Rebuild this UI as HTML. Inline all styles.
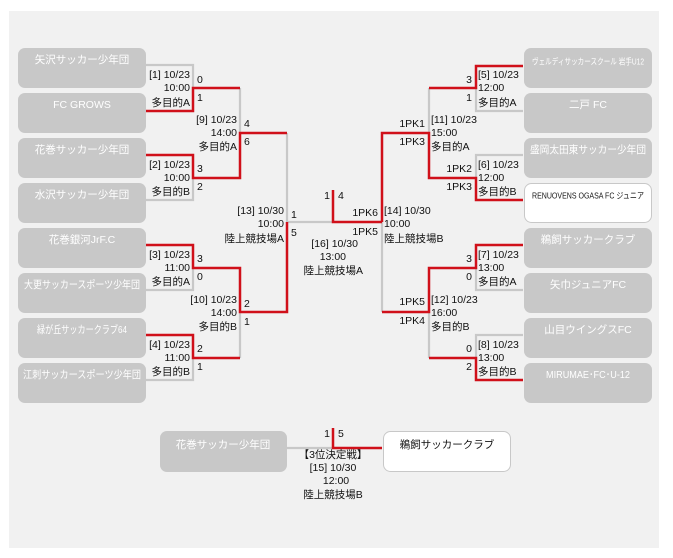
<!DOCTYPE html>
<html><head><meta charset="utf-8"><style>
html,body{margin:0;padding:0;background:#fff;width:673px;height:558px;overflow:hidden}
svg text{font-family:"Liberation Sans","Noto Sans CJK JP",sans-serif;font-size:10.5px;fill:#111;dominant-baseline:middle}
svg text.w{fill:#fff;font-size:10.5px;text-anchor:middle}
svg text.d{fill:#111;font-size:10.5px;text-anchor:middle}
.e{text-anchor:end}.m{text-anchor:middle}
</style></head><body>
<svg width="673" height="558" viewBox="0 0 673 558" xmlns="http://www.w3.org/2000/svg">
<rect x="9" y="11" width="650" height="537" fill="#f1f1f1"/>
<g fill="#c8c8c8">
<rect x="18" y="48" width="128" height="40" rx="7"/>
<rect x="18" y="93" width="128" height="40" rx="7"/>
<rect x="18" y="138" width="128" height="40" rx="7"/>
<rect x="18" y="183" width="128" height="40" rx="7"/>
<rect x="18" y="228" width="128" height="40" rx="7"/>
<rect x="18" y="273" width="128" height="40" rx="7"/>
<rect x="18" y="318" width="128" height="40" rx="7"/>
<rect x="18" y="363" width="128" height="40" rx="7"/>
<rect x="524" y="48" width="128" height="40" rx="7"/>
<rect x="524" y="93" width="128" height="40" rx="7"/>
<rect x="524" y="138" width="128" height="40" rx="7"/>
<rect x="524" y="228" width="128" height="40" rx="7"/>
<rect x="524" y="273" width="128" height="40" rx="7"/>
<rect x="524" y="318" width="128" height="40" rx="7"/>
<rect x="524" y="363" width="128" height="40" rx="7"/>
<rect x="160" y="431" width="127" height="41" rx="7"/>
</g>
<rect x="524.5" y="183.5" width="127" height="39" rx="7" fill="#fff" stroke="#c8c8c8"/>
<rect x="383.5" y="431.5" width="127" height="40" rx="7" fill="#fff" stroke="#c8c8c8"/>
<g fill="none" stroke="#c8c8c8" stroke-width="2.2">
<path d="M146,65H193V88"/><path d="M193,178V200H146"/><path d="M240,88V133"/>
<path d="M193,268V290H146"/><path d="M193,358V380H146"/><path d="M240,312V358"/>
<path d="M287,133V222H333"/>
<path d="M476,88V111H523"/><path d="M429,88V133"/><path d="M523,155H476V178"/>
<path d="M476,268V290H523"/><path d="M382,222V312"/><path d="M429,312V358"/><path d="M523,335H476V358"/>
<path d="M287,448H333"/>
</g>
<g fill="none" stroke="#d0101a" stroke-width="2.5">
<path d="M146,111H193V88H240"/>
<path d="M146,155H193V178H240V133H287"/>
<path d="M146,245H193V268H240V312H287V222"/>
<path d="M146,335H193V358H240"/>
<path d="M333,190V222H382"/>
<path d="M523,66H476V88H429"/>
<path d="M382,222V133H429V178H476V200H523"/>
<path d="M523,245H476V268H429V312H382"/>
<path d="M429,358H476V380H523"/>
<path d="M333,428V448H382"/>
</g>
<g>
<text class="w" x="82" y="60">矢沢サッカー少年団</text>
<text class="w" x="82" y="105">FC GROWS</text>
<text class="w" x="82" y="150">花巻サッカー少年団</text>
<text class="w" x="82" y="195">水沢サッカー少年団</text>
<text class="w" x="82" y="240">花巻銀河JrF.C</text>
<text class="w" x="82" y="285" textLength="116" lengthAdjust="spacingAndGlyphs">大更サッカースポーツ少年団</text>
<text class="w" x="82" y="330" textLength="90" lengthAdjust="spacingAndGlyphs">緑が丘サッカークラブ64</text>
<text class="w" x="82" y="375" textLength="118" lengthAdjust="spacingAndGlyphs">江刺サッカースポーツ少年団</text>
<text class="w" x="588" y="62" style="font-size:8.5px" textLength="112" lengthAdjust="spacingAndGlyphs">ヴェルディサッカースクール 岩手U12</text>
<text class="w" x="588" y="105">二戸 FC</text>
<text class="w" x="588" y="150" textLength="116" lengthAdjust="spacingAndGlyphs">盛岡太田東サッカー少年団</text>
<text class="d" x="588" y="196" style="font-size:8.5px" textLength="112" lengthAdjust="spacingAndGlyphs">RENUOVENS OGASA FC ジュニア</text>
<text class="w" x="588" y="240">鵜飼サッカークラブ</text>
<text class="w" x="588" y="285">矢巾ジュニアFC</text>
<text class="w" x="588" y="330">山目ウイングスFC</text>
<text class="w" x="588" y="375" textLength="84" lengthAdjust="spacingAndGlyphs">MIRUMAE･FC･U-12</text>
<text class="w" x="223" y="445">花巻サッカー少年団</text>
<text class="d" x="447" y="445">鵜飼サッカークラブ</text>
</g>
<g class="e">
<text class="e" x="190" y="75">[1] 10/23</text><text class="e" x="190" y="88">10:00</text><text class="e" x="190" y="103">多目的A</text>
<text class="e" x="190" y="165">[2] 10/23</text><text class="e" x="190" y="178">10:00</text><text class="e" x="190" y="192">多目的B</text>
<text class="e" x="190" y="255">[3] 10/23</text><text class="e" x="190" y="268">11:00</text><text class="e" x="190" y="282">多目的A</text>
<text class="e" x="190" y="345">[4] 10/23</text><text class="e" x="190" y="358">11:00</text><text class="e" x="190" y="372">多目的B</text>
<text class="e" x="237" y="120">[9] 10/23</text><text class="e" x="237" y="133">14:00</text><text class="e" x="237" y="147">多目的A</text>
<text class="e" x="237" y="300">[10] 10/23</text><text class="e" x="237" y="313">14:00</text><text class="e" x="237" y="327">多目的B</text>
<text class="e" x="284" y="211">[13] 10/30</text><text class="e" x="284" y="224">10:00</text><text class="e" x="284" y="239">陸上競技場A</text>
<text class="e" x="358" y="244">[16] 10/30</text><text class="e" x="346" y="257">13:00</text><text class="e" x="363" y="271">陸上競技場A</text>
<text class="e" x="472" y="80">3</text><text class="e" x="472" y="98">1</text>
<text class="e" x="472" y="169">1PK2</text><text class="e" x="472" y="187">1PK3</text>
<text class="e" x="472" y="259">3</text><text class="e" x="472" y="277">0</text>
<text class="e" x="472" y="349">0</text><text class="e" x="472" y="367">2</text>
<text class="e" x="425" y="124">1PK1</text><text class="e" x="425" y="142">1PK3</text>
<text class="e" x="425" y="302">1PK5</text><text class="e" x="425" y="321">1PK4</text>
<text class="e" x="378" y="213">1PK6</text><text class="e" x="378" y="232">1PK5</text>
<text class="e" x="330" y="196">1</text><text class="e" x="330" y="434">1</text>
</g>
<g>
<text x="197" y="80">0</text><text x="197" y="98">1</text>
<text x="197" y="169">3</text><text x="197" y="187">2</text>
<text x="197" y="259">3</text><text x="197" y="277">0</text>
<text x="197" y="349">2</text><text x="197" y="367">1</text>
<text x="244" y="124">4</text><text x="244" y="142">6</text>
<text x="244" y="304">2</text><text x="244" y="322">1</text>
<text x="291" y="215">1</text><text x="291" y="233">5</text>
<text x="338" y="196">4</text><text x="338" y="434">5</text>
<text x="478" y="75">[5] 10/23</text><text x="478" y="88">12:00</text><text x="478" y="103">多目的A</text>
<text x="478" y="165">[6] 10/23</text><text x="478" y="178">12:00</text><text x="478" y="192">多目的B</text>
<text x="478" y="255">[7] 10/23</text><text x="478" y="268">13:00</text><text x="478" y="282">多目的A</text>
<text x="478" y="345">[8] 10/23</text><text x="478" y="358">13:00</text><text x="478" y="372">多目的B</text>
<text x="431" y="120">[11] 10/23</text><text x="431" y="133">15:00</text><text x="431" y="147">多目的A</text>
<text x="431" y="300">[12] 10/23</text><text x="431" y="313">16:00</text><text x="431" y="327">多目的B</text>
<text x="384" y="211">[14] 10/30</text><text x="384" y="224">10:00</text><text x="384" y="239">陸上競技場B</text>
</g>
<g>
<text class="m" x="333" y="455">【3位決定戦】</text>
<text class="m" x="333" y="468">[15] 10/30</text>
<text class="m" x="336" y="481">12:00</text>
<text class="m" x="333" y="495">陸上競技場B</text>
</g>
</svg>
</body></html>
